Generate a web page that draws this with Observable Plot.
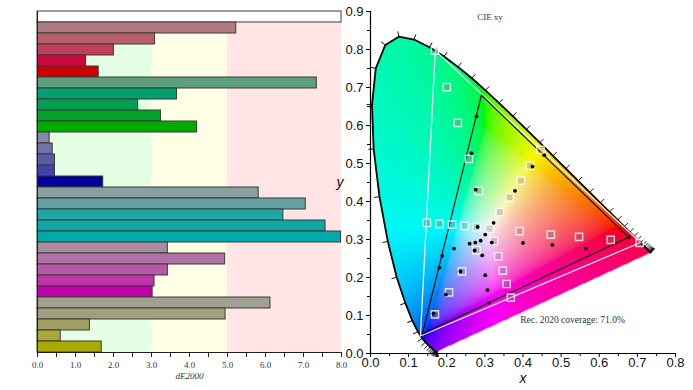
<!DOCTYPE html>
<html><head><meta charset="utf-8">
<script src="https://cdn.jsdelivr.net/npm/d3@7"></script>
<script src="https://cdn.jsdelivr.net/npm/@observablehq/plot@0.6"></script>
<style>
body{margin:0;background:#fff;}
#wrap{position:relative;width:693px;height:390px;overflow:hidden;background:#fff;}
#left{position:absolute;left:0;top:0;}
#right{position:absolute;left:330px;top:0;}
</style></head><body><div id="wrap"><div id="left"></div><div id="right"></div></div>
<script>
// ---- Left panel: dE2000 per patch ----
const patchIds = d3.range(31).map(i => "p" + i);
const dE2000 = [8.0,
  5.23, 3.09, 2.01, 1.28, 1.61,
  7.35, 3.67, 2.65, 3.25, 4.20,
  0.32, 0.40, 0.46, 0.46, 1.73,
  5.82, 7.06, 6.47, 7.58, 7.99,
  3.43, 4.94, 3.43, 3.08, 3.03,
  6.13, 4.95, 1.38, 0.61, 1.69];
const patchColors = ["#ffffff",
  "#b07a82", "#b8606e", "#c03e58", "#c8083e", "#cc0000",
  "#5f9f7d", "#00a070", "#00a050", "#00a228", "#00aa00",
  "#8888a8", "#7272a8", "#5a5aa8", "#4444a8", "#0000a0",
  "#88a0a0", "#64a2a2", "#22a7a7", "#0ca8a8", "#00aaaa",
  "#a98c9f", "#b072a6", "#b858a8", "#c032a8", "#c000a8",
  "#a0a090", "#a0a080", "#a0a062", "#a8a838", "#aaaa00"];
const bandFrom = [0, 3, 5];
const bandTo = [3, 5, 8];
const bandColors = ["#e5ffe5", "#ffffe5", "#ffe5e5"];
const dETicks = [0, 1, 2, 3, 4, 5, 6, 7, 8];

// ---- Right panel: CIE 1931 xy ----
const locusNm = d3.range(380, 701, 5);
const locusX = [0.1741,0.1740,0.1738,0.1736,0.1733,0.1730,0.1726,0.1721,0.1714,0.1703,0.1689,0.1669,0.1644,0.1611,0.1566,0.1510,0.1440,0.1355,0.1241,0.1096,0.0913,0.0687,0.0454,0.0235,0.0082,0.0039,0.0139,0.0389,0.0743,0.1142,0.1547,0.1929,0.2296,0.2658,0.3016,0.3373,0.3731,0.4087,0.4441,0.4788,0.5125,0.5448,0.5752,0.6029,0.6270,0.6482,0.6658,0.6801,0.6915,0.7006,0.7079,0.7140,0.7190,0.7230,0.7260,0.7283,0.7300,0.7311,0.7320,0.7327,0.7334,0.7340,0.7344,0.7346,0.7347];
const locusY = [0.0050,0.0050,0.0049,0.0049,0.0048,0.0048,0.0048,0.0048,0.0051,0.0058,0.0069,0.0086,0.0109,0.0138,0.0177,0.0227,0.0297,0.0399,0.0578,0.0868,0.1327,0.2007,0.2950,0.4127,0.5384,0.6548,0.7502,0.8120,0.8338,0.8262,0.8059,0.7816,0.7543,0.7243,0.6923,0.6589,0.6245,0.5896,0.5547,0.5202,0.4866,0.4544,0.4242,0.3965,0.3725,0.3514,0.3340,0.3197,0.3083,0.2993,0.2920,0.2859,0.2809,0.2770,0.2740,0.2717,0.2700,0.2689,0.2680,0.2673,0.2666,0.2660,0.2656,0.2654,0.2653];
const rec2020X = [0.708, 0.170, 0.131, 0.708];
const rec2020Y = [0.292, 0.797, 0.046, 0.292];
const gamutX = [0.677, 0.291, 0.136, 0.677];
const gamutY = [0.306, 0.680, 0.051, 0.306];
const targetX = [0.200,0.229,0.258,0.446,0.418,0.394,0.284,0.365,0.339,0.148,0.181,0.214,0.247,0.278,0.312,0.391,0.324,0.278,0.335,0.347,0.240,0.357,0.206,0.368,0.169,0.473,0.547,0.630,0.706,0.169];
const targetY = [0.701,0.607,0.512,0.536,0.494,0.455,0.428,0.411,0.372,0.344,0.341,0.339,0.336,0.333,0.329,0.322,0.296,0.272,0.256,0.218,0.216,0.183,0.161,0.147,0.103,0.313,0.307,0.299,0.291,0.797];
const measX = [0.278,0.265,0.425,0.456,0.276,0.379,0.281,0.323,0.400,0.301,0.289,0.318,0.275,0.260,0.219,0.273,0.293,0.188,0.181,0.236,0.301,0.307,0.198,0.311,0.165,0.477,0.565,0.677];
const measY = [0.624,0.527,0.492,0.522,0.431,0.428,0.333,0.344,0.291,0.313,0.297,0.292,0.292,0.289,0.276,0.271,0.258,0.257,0.226,0.216,0.206,0.167,0.155,0.134,0.105,0.286,0.276,0.306];
const xyTicks = [0,1,2,3,4,5,6,7,8,9].map(i => i / 10);
const coverageText = "Rec. 2020 coverage: 71.0%";

// ---------- left plot ----------
const bars = patchIds.map((id, i) => ({id, v: dE2000[i], c: patchColors[i]}));
const bands = bandFrom.map((f, i) => ({from: f, to: bandTo[i], c: bandColors[i]}));
const leftPlot = Plot.plot({
  width: 360, height: 390,
  marginLeft: 37, marginRight: 19, marginTop: 11, marginBottom: 38,
  x: {domain: [0, 8], axis: null},
  y: {domain: patchIds, type: "band", padding: 0, axis: null},
  color: {type: "identity"},
  style: {fontFamily: "'Liberation Serif', 'Times New Roman', serif", fontSize: "9px", background: "transparent", color: "#333", overflow: "visible"},
  marks: [
    Plot.rect(bands, {x1: "from", x2: "to", fill: "c"}),
    Plot.barX(bars, {x: "v", y: "id", fill: "c", stroke: "#3a3a3a", strokeWidth: 1}),
    Plot.axisX({ticks: dETicks, tickFormat: d3.format(".1f"), tickSize: 5, tickPadding: 4, label: null, fontSize: 9, stroke: "#222"}),
    Plot.axisX({ticks: dETicks.slice(0, -1).map(d => d + 0.5), tickSize: 5, tickFormat: () => "", label: null, stroke: "#222"}),
    Plot.ruleX([0], {stroke: "#222"}),
    Plot.frame({anchor: "bottom", stroke: "#222"}),
    Plot.text(["dE2000"], {frameAnchor: "bottom", dy: 26, fontStyle: "italic", fontSize: 9, fill: "#333"})
  ]
});
document.getElementById("left").append(leftPlot);

// ---------- right plot ----------
const locus = locusX.map((x, i) => ({x, y: locusY[i], nm: locusNm[i]}));
const locusPoly = locus.map(d => [d.x, d.y]);
const gam = v => v <= 0.0031308 ? 12.92 * v : 1.055 * Math.pow(v, 1 / 2.4) - 0.055;
function xyColor(x, y) {
  if (y <= 0 || !d3.polygonContains(locusPoly, [x, y])) return null;
  const X = x / y, Y = 1, Z = (1 - x - y) / y;
  let r = 3.2406 * X - 1.5372 * Y - 0.4986 * Z;
  let g = -0.9689 * X + 1.8758 * Y + 0.0415 * Z;
  let b = 0.0557 * X - 0.2040 * Y + 1.0570 * Z;
  const m = Math.min(r, g, b);
  if (m < 0) { r -= m; g -= m; b -= m; }
  const M = Math.max(r, g, b);
  r /= M; g /= M; b /= M;
  return d3.rgb(248 * gam(r), 248 * gam(g), 248 * gam(b)).formatHex();
}
const locusTicks = locus.map((d, i) => {
  const a = locus[Math.max(0, i - 1)], c = locus[Math.min(locus.length - 1, i + 1)];
  const tx = c.x - a.x, ty = c.y - a.y;
  const nx = -ty, ny = tx;
  return {x: d.x, y: d.y, rot: Math.atan2(nx, ny) * 180 / Math.PI};
});
const lineShape = {draw(context, l) { context.moveTo(0, 0); context.lineTo(0, -l); }};
const rec2020 = rec2020X.map((x, i) => ({x, y: rec2020Y[i]}));
const gamut = gamutX.map((x, i) => ({x, y: gamutY[i]}));
const targets = targetX.map((x, i) => ({x, y: targetY[i]}));
const meas = measX.map((x, i) => ({x, y: measY[i]}));

const rightPlot = Plot.plot({
  width: 363, height: 390,
  marginLeft: 40, marginRight: 18, marginTop: 11, marginBottom: 37,
  x: {domain: [0, 0.8]},
  y: {domain: [0, 0.9]},
  color: {type: "identity"},
  style: {fontFamily: "'Liberation Sans', Arial, sans-serif", fontSize: "13px", background: "transparent", color: "#111"},
  marks: [
    Plot.raster({fill: xyColor, x1: 0, x2: 0.8, y1: 0, y2: 0.9}),
    Plot.vector(locusTicks, {x: "x", y: "y", rotate: "rot", length: 5, anchor: "start", shape: lineShape, stroke: "#111", strokeWidth: 0.9}),
    Plot.line(locus, {x: "x", y: "y", stroke: "#000", strokeWidth: 1.8}),
    Plot.line(rec2020, {x: "x", y: "y", stroke: "#fff", strokeWidth: 1.3, strokeOpacity: 0.9}),
    Plot.line(gamut, {x: "x", y: "y", stroke: "#000", strokeWidth: 1.1}),
    Plot.dot(targets, {x: "x", y: "y", symbol: "square", r: 4.1, stroke: "#fff", strokeWidth: 1.4, strokeOpacity: 0.8, fill: "#777", fillOpacity: 0.3}),
    Plot.dot(meas, {x: "x", y: "y", r: 1.9, fill: "#000"}),
    Plot.axisX({ticks: xyTicks.slice(0, 9), tickFormat: d3.format(".1f"), tickSize: 4, tickPadding: 0, label: null, fontSize: 13, stroke: "#000"}),
    Plot.axisX({ticks: xyTicks.slice(0, 8).map(d => d + 0.05), tickSize: 3, tickFormat: () => "", label: null, stroke: "#000"}),
    Plot.axisY({ticks: xyTicks, tickFormat: d3.format(".1f"), tickSize: 4, tickPadding: 3, label: null, fontSize: 13, stroke: "#000"}),
    Plot.axisY({ticks: xyTicks.slice(0, 9).map(d => d + 0.05), tickSize: 3, tickFormat: () => "", label: null, stroke: "#000"}),
    Plot.ruleX([0], {stroke: "#000", strokeWidth: 1.2}),
    Plot.ruleY([0], {stroke: "#000", strokeWidth: 1.2}),
    Plot.text(["x"], {frameAnchor: "bottom", dy: 29, fontStyle: "italic", fontSize: 14, fill: "#111"}),
    Plot.text(["y"], {frameAnchor: "left", dx: -34, fontStyle: "italic", fontSize: 14, fill: "#111"}),
    Plot.text(["CIE xy"], {frameAnchor: "top", dx: -33, dy: 2, fontFamily: "'Liberation Serif', serif", fontSize: 9, fill: "#333"}),
    Plot.text([coverageText], {frameAnchor: "bottom-right", dx: -103, dy: -31, textAnchor: "middle", fontFamily: "'Liberation Serif', serif", fontSize: 9.5, fill: "#333"})
  ]
});
document.getElementById("right").append(rightPlot);
</script></body></html>
